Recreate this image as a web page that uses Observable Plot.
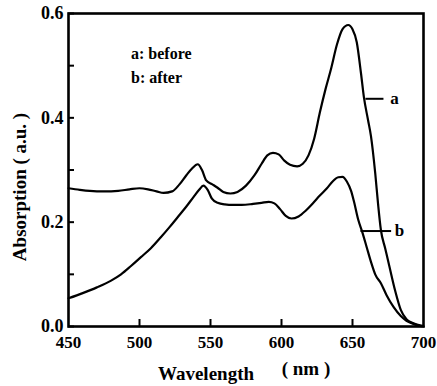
<!DOCTYPE html>
<html>
<head>
<meta charset="utf-8">
<script src="https://cdn.jsdelivr.net/npm/d3@7"></script>
<script src="https://cdn.jsdelivr.net/npm/@observablehq/plot@0.6"></script>
<style>
  html, body { margin: 0; padding: 0; background: #fff; }
  svg text { font-family: 'Liberation Serif', 'Times New Roman', serif !important; font-weight: bold; }
</style>
</head>
<body>
<div id="chart"></div>
<script>
// Curve a (before)
const wlA = [450,458,465,475,485,493,500,506,512,517,523,528,533,537,541,544,547,551,555,559,564,569,575,581,586,590,594,598,602,606,611,615,619,623,627,631,635,639,643,647,650,653,656,658,661,663,666,668,670,673,676,680,684,688,692,696,700];
const absA = [0.265,0.262,0.260,0.259,0.260,0.263,0.265,0.263,0.259,0.256,0.259,0.272,0.290,0.303,0.311,0.300,0.280,0.273,0.266,0.258,0.255,0.258,0.270,0.290,0.312,0.328,0.333,0.330,0.318,0.310,0.307,0.312,0.328,0.360,0.410,0.455,0.495,0.540,0.570,0.578,0.570,0.545,0.485,0.440,0.395,0.365,0.294,0.235,0.185,0.150,0.115,0.069,0.032,0.014,0.007,0.003,0.001];
// Curve b (after)
const wlB = [450,460,470,480,487,494,501,508,515,521,527,533,538,542,545,548,551,555,560,566,572,580,586,591,595,599,603,607,612,617,622,627,632,636,640,643,646,649,651,654,657,660,663,666,670,674,679,684,688,692,696,700];
const absB = [0.054,0.064,0.075,0.088,0.100,0.116,0.133,0.150,0.171,0.190,0.210,0.230,0.248,0.262,0.270,0.262,0.245,0.237,0.234,0.233,0.233,0.235,0.237,0.239,0.236,0.225,0.212,0.207,0.211,0.222,0.236,0.251,0.265,0.278,0.286,0.287,0.278,0.260,0.240,0.205,0.180,0.152,0.124,0.100,0.083,0.060,0.037,0.020,0.011,0.006,0.002,0.000];

const yMajor = [0, 0.2, 0.4, 0.6];
const yMinor = [0.1, 0.3, 0.5];
const xTicks = [450, 500, 550, 600, 650, 700];
const xInnerTicks = [500, 550, 600, 650];

const legendText = ["a: before", "b: after"];
const legendX = [494, 494];
const legendY = [0.523, 0.477];

const curveLabels = ["a", "b"];
const curveLabelX = [679.5, 683];
const curveLabelY = [0.4365, 0.183];
const leaderX1 = [659.1, 655.6];
const leaderX2 = [671.8, 677.2];

const dataA = wlA.map((x, i) => ({x, y: absA[i]}));
const dataB = wlB.map((x, i) => ({x, y: absB[i]}));
const labelRows = curveLabels.map((t, i) => ({t, x: curveLabelX[i], y: curveLabelY[i], x1: leaderX1[i], x2: leaderX2[i]}));
const legendRows = legendText.map((t, i) => ({t, x: legendX[i], y: legendY[i]}));

const W = 437, H = 386;
const mL = 68, mR = 14, mT = 13, mB = 60;
const plotW = W - mL - mR, plotH = H - mT - mB;
const font = "Liberation Serif";

const chart = Plot.plot({
  width: W,
  height: H,
  marginLeft: mL,
  marginRight: mR,
  marginTop: mT,
  marginBottom: mB,
  style: "font-family: 'Liberation Serif', serif; font-weight: bold; font-size: 17px; color: #000; background: #fff;",
  x: {domain: [450, 700]},
  y: {domain: [0, 0.6]},
  marks: [
    Plot.axisY(yMajor, {tickSize: 0, tickPadding: 5, tickFormat: d3.format(".1f"), label: null, fontSize: 18, fontWeight: "bold", fontFamily: font}),
    Plot.axisX(xTicks, {tickSize: 0, tickPadding: 9, label: null, fontSize: 17, fontWeight: "bold", fontFamily: font}),
    Plot.tickY(yMajor.concat(yMinor), {y: d => d, insetRight: plotW - 6, stroke: "#000", strokeWidth: 2}),
    Plot.tickX(xInnerTicks, {x: d => d, insetTop: plotH - 7, stroke: "#000", strokeWidth: 2}),
    Plot.line(dataA, {x: "x", y: "y", curve: "monotone-x", stroke: "#000", strokeWidth: 2.2}),
    Plot.line(dataB, {x: "x", y: "y", curve: "monotone-x", stroke: "#000", strokeWidth: 2.2}),
    Plot.link(labelRows, {x1: "x1", x2: "x2", y1: "y", y2: "y", stroke: "#000", strokeWidth: 2}),
    Plot.text(labelRows, {x: "x", y: "y", text: "t", fontSize: 17, fontWeight: "bold", fontFamily: font, fill: "#000"}),
    Plot.text(legendRows, {x: "x", y: "y", text: "t", textAnchor: "start", fontSize: 16, fontWeight: "bold", fontFamily: font, fill: "#000"}),
    Plot.text(["Wavelength"], {frameAnchor: "bottom", textAnchor: "middle", lineAnchor: "middle", dx: -40, dy: 47, fontSize: 19, fontWeight: "bold", fontFamily: font, fill: "#000"}),
    Plot.text(["( nm )"], {frameAnchor: "bottom", textAnchor: "middle", lineAnchor: "middle", dx: 60, dy: 42, fontSize: 19, fontWeight: "bold", fontFamily: font, fill: "#000"}),
    Plot.text(["Absorption ( a.u. )"], {frameAnchor: "left", textAnchor: "middle", lineAnchor: "middle", rotate: -90, dx: -49, dy: 17, fontSize: 19, fontWeight: "bold", fontFamily: font, fill: "#000"}),
    Plot.frame({stroke: "#000", strokeWidth: 2.6})
  ]
});
document.getElementById("chart").appendChild(chart);
</script>
</body>
</html>
